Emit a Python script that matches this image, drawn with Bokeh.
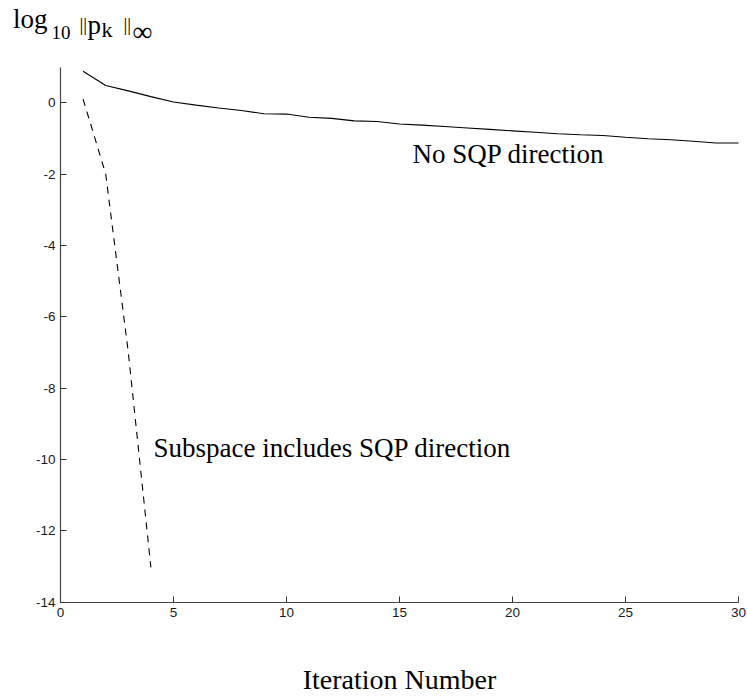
from bokeh.plotting import figure
from bokeh.models import Label, Range1d, FixedTicker
from bokeh.embed import file_html
from bokeh.resources import INLINE

# ---- data ----
iter_no_sqp = list(range(1, 31))
log_no_sqp = [0.88, 0.48, 0.33, 0.17, 0.02, -0.07, -0.15, -0.22, -0.31, -0.32,
              -0.41, -0.44, -0.51, -0.53, -0.60, -0.63, -0.67, -0.71, -0.75, -0.79,
              -0.83, -0.87, -0.90, -0.92, -0.97, -1.01, -1.04, -1.08, -1.13, -1.13]
iter_sqp = [1, 2, 3, 4]
log_sqp = [0.10, -2.0, -7.0, -13.03]

x_ticks = [0, 5, 10, 15, 20, 25, 30]
y_ticks = [0, -2, -4, -6, -8, -10, -12, -14]
y_tick_labels = {t: str(t) for t in y_ticks}

# ---- layout: the frame fills the canvas; axes are drawn at fixed locations ----
W, H = 747, 696
AX_LEFT, AX_RIGHT = 60, 738      # canvas px of x = 0 and x = 30
AX_TOP, AX_BOTTOM = 66.5, 601.5  # canvas px of y = 1 and y = -14
X0, X1 = 0, 30
Y0, Y1 = -14, 1
SX = (AX_RIGHT - AX_LEFT) / (X1 - X0)
SY = (AX_BOTTOM - AX_TOP) / (Y1 - Y0)
TEXT_SHIFT = 10  # compensation for label baseline placement

def dx(cx):
    return X0 + (cx - AX_LEFT) / SX

def dy(cy):
    return Y1 - (cy - AX_TOP) / SY

p = figure(width=W, height=H, output_backend="svg", toolbar_location=None,
           x_range=Range1d(dx(0), dx(W)), y_range=Range1d(dy(H), dy(0)),
           min_border=0, min_border_left=0, min_border_right=0,
           min_border_top=0, min_border_bottom=0)
p.outline_line_color = None
p.grid.visible = False
p.background_fill_color = "white"
p.border_fill_color = "white"

xa, ya = p.xaxis[0], p.yaxis[0]
xa.fixed_location = Y0
ya.fixed_location = X0
xa.bounds = (X0, X1)
ya.bounds = (Y0, Y1)
for ax in (xa, ya):
    ax.axis_line_color = "#444444"
    ax.axis_line_width = 1.2
    ax.major_tick_line_color = "#333333"
    ax.major_tick_in = 6
    ax.major_tick_out = 0
    ax.minor_tick_line_color = None
    ax.major_label_text_font = "Liberation Sans"
    ax.major_label_text_font_size = "13.5px"
    ax.major_label_text_color = "#1a1a1a"

xa.ticker = FixedTicker(ticks=x_ticks)
ya.ticker = FixedTicker(ticks=y_ticks)
ya.major_label_overrides = y_tick_labels
xa.major_label_standoff = 6
ya.major_label_standoff = 5

p.line(iter_no_sqp, log_no_sqp, line_color="black", line_width=1.1)
p.line(iter_sqp, log_sqp, line_color="black", line_width=1.1, line_dash="7 6")

SERIF = "Liberation Serif"

def lab(text, cx, cy, size, align="left", font=SERIF):
    p.add_layout(Label(x=dx(cx), y=dy(cy - TEXT_SHIFT), text=text, text_font=font,
                       text_font_size=f"{size}px", text_color="black",
                       text_align=align, text_baseline="alphabetic"))

# in-plot annotations
lab("No SQP direction", 412, 163, 27)
lab("Subspace includes SQP direction", 153, 457, 27)
# x axis label
lab("Iteration Number", (AX_LEFT + AX_RIGHT) / 2, 689, 28, align="center")
# y label: log10 ||p_k||_inf
lab("log", 12.5, 28, 27)
lab("10", 51, 42, 19)
lab("||", 79, 34, 19)
lab("p", 87, 34, 27)
lab("k", 101, 39, 22)
lab("||", 123, 34, 19)
lab("\u221e", 132, 41, 28)

open("out.html", "w").write(file_html(p, INLINE))
